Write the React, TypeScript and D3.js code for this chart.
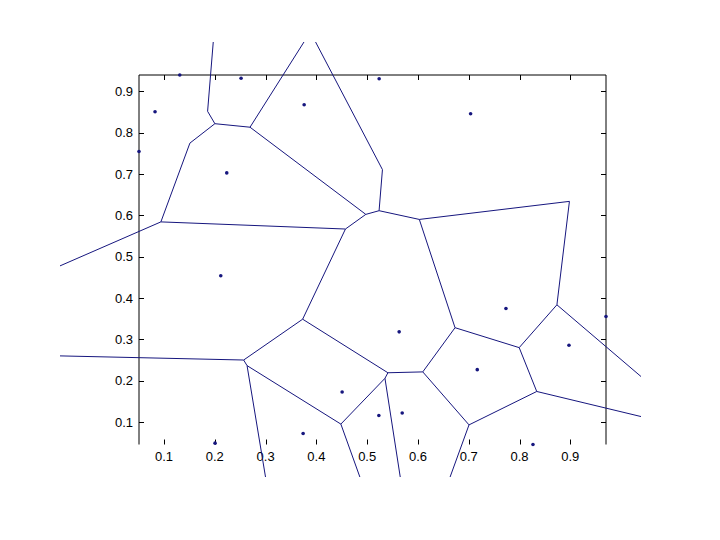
import React from 'react';
import * as d3 from 'd3';

const pointX = [0.131, 0.2517, 0.0823, 0.0507, 0.2235, 0.3759, 0.5236, 0.7037, 0.2117, 0.2005, 0.563, 0.4507, 0.523, 0.569, 0.3739, 0.7733, 0.9703, 0.8974, 0.7168, 0.8265];
const pointY = [0.9395, 0.9315, 0.8505, 0.7545, 0.7027, 0.8675, 0.9305, 0.8457, 0.4539, 0.049, 0.3182, 0.1727, 0.116, 0.1218, 0.0724, 0.3747, 0.3553, 0.2857, 0.2268, 0.0457];
const xTicks = [0.1, 0.2, 0.3, 0.4, 0.5, 0.6, 0.7, 0.8, 0.9];
const yTicks = [0.1, 0.2, 0.3, 0.4, 0.5, 0.6, 0.7, 0.8, 0.9];

function circumcenter(a: number[], b: number[], c: number[]): [number, number] {
  const d = 2 * (a[0] * (b[1] - c[1]) + b[0] * (c[1] - a[1]) + c[0] * (a[1] - b[1]));
  const a2 = a[0] * a[0] + a[1] * a[1];
  const b2 = b[0] * b[0] + b[1] * b[1];
  const c2 = c[0] * c[0] + c[1] * c[1];
  const ux = (a2 * (b[1] - c[1]) + b2 * (c[1] - a[1]) + c2 * (a[1] - b[1])) / d;
  const uy = (a2 * (c[0] - b[0]) + b2 * (a[0] - c[0]) + c2 * (b[0] - a[0])) / d;
  return [ux, uy];
}

export default function App() {
  const W = 720, H = 540;
  const left = 139, right = 606, top = 75, bottom = 444.5;
  const x = d3.scaleLinear().domain(d3.extent(pointX) as [number, number]).range([left, right]);
  const y = d3.scaleLinear().domain(d3.extent(pointY) as [number, number]).range([bottom, top]);
  const pts = pointX.map((v, i) => [v, pointY[i]] as [number, number]);
  const delaunay = d3.Delaunay.from(pts);
  const tri = delaunay.triangles;
  const nT = tri.length / 3;
  const centers: [number, number][] = [];
  for (let t = 0; t < nT; t++) {
    centers.push(circumcenter(pts[tri[3 * t]], pts[tri[3 * t + 1]], pts[tri[3 * t + 2]]));
  }
  const edges: [number, number][][] = [];
  const he = delaunay.halfedges;
  for (let e = 0; e < he.length; e++) {
    const j = he[e];
    if (j > e) {
      const c1 = centers[Math.floor(e / 3)];
      const c2 = centers[Math.floor(j / 3)];
      edges.push([[x(c1[0]), y(c1[1])], [x(c2[0]), y(c2[1])]]);
    }
  }
  const line = d3.line();
  const blue = '#16167e';
  const font = 'Liberation Sans, Arial, Helvetica, sans-serif';
  return (
    <svg width={W} height={H} style={{ position: 'fixed', left: 0, top: 0, background: '#fff' }}>
      <defs>
        <clipPath id="clip">
          <rect x={60} y={42} width={581} height={435} />
        </clipPath>
      </defs>
      <rect x={0} y={0} width={W} height={H} fill="#fff" />
      <g stroke="#000" strokeWidth={1} fill="none">
        <line x1={left} y1={top} x2={right} y2={top} />
        <line x1={left} y1={top} x2={left} y2={bottom} />
        <line x1={right} y1={top} x2={right} y2={bottom} />
        {xTicks.map(t => (
          <g key={'xt' + t}>
            <line x1={Math.round(x(t)) + 0.5} x2={Math.round(x(t)) + 0.5} y1={bottom} y2={bottom - 5} />
            <line x1={Math.round(x(t)) + 0.5} x2={Math.round(x(t)) + 0.5} y1={top} y2={top + 5} />
          </g>
        ))}
        {yTicks.map(t => (
          <g key={'yt' + t}>
            <line x1={left} x2={left + 5} y1={Math.round(y(t)) + 0.5} y2={Math.round(y(t)) + 0.5} />
            <line x1={right} x2={right - 5} y1={Math.round(y(t)) + 0.5} y2={Math.round(y(t)) + 0.5} />
          </g>
        ))}
      </g>
      <g fontFamily={font} fontSize={13} fill="#000">
        {xTicks.map(t => (
          <text key={'xl' + t} x={x(t)} y={461} textAnchor="middle">{t.toFixed(1)}</text>
        ))}
        {yTicks.map(t => (
          <text key={'yl' + t} x={133} y={y(t)} dy="0.35em" textAnchor="end">{t.toFixed(1)}</text>
        ))}
      </g>
      <g clipPath="url(#clip)" stroke={blue} strokeWidth={1} fill="none">
        {edges.map((e, i) => (
          <path key={i} d={line(e) || ''} />
        ))}
      </g>
      <g fill={blue}>
        {pts.map((p, i) => (
          <circle key={i} cx={x(p[0])} cy={y(p[1])} r={1.8} />
        ))}
      </g>
    </svg>
  );
}
